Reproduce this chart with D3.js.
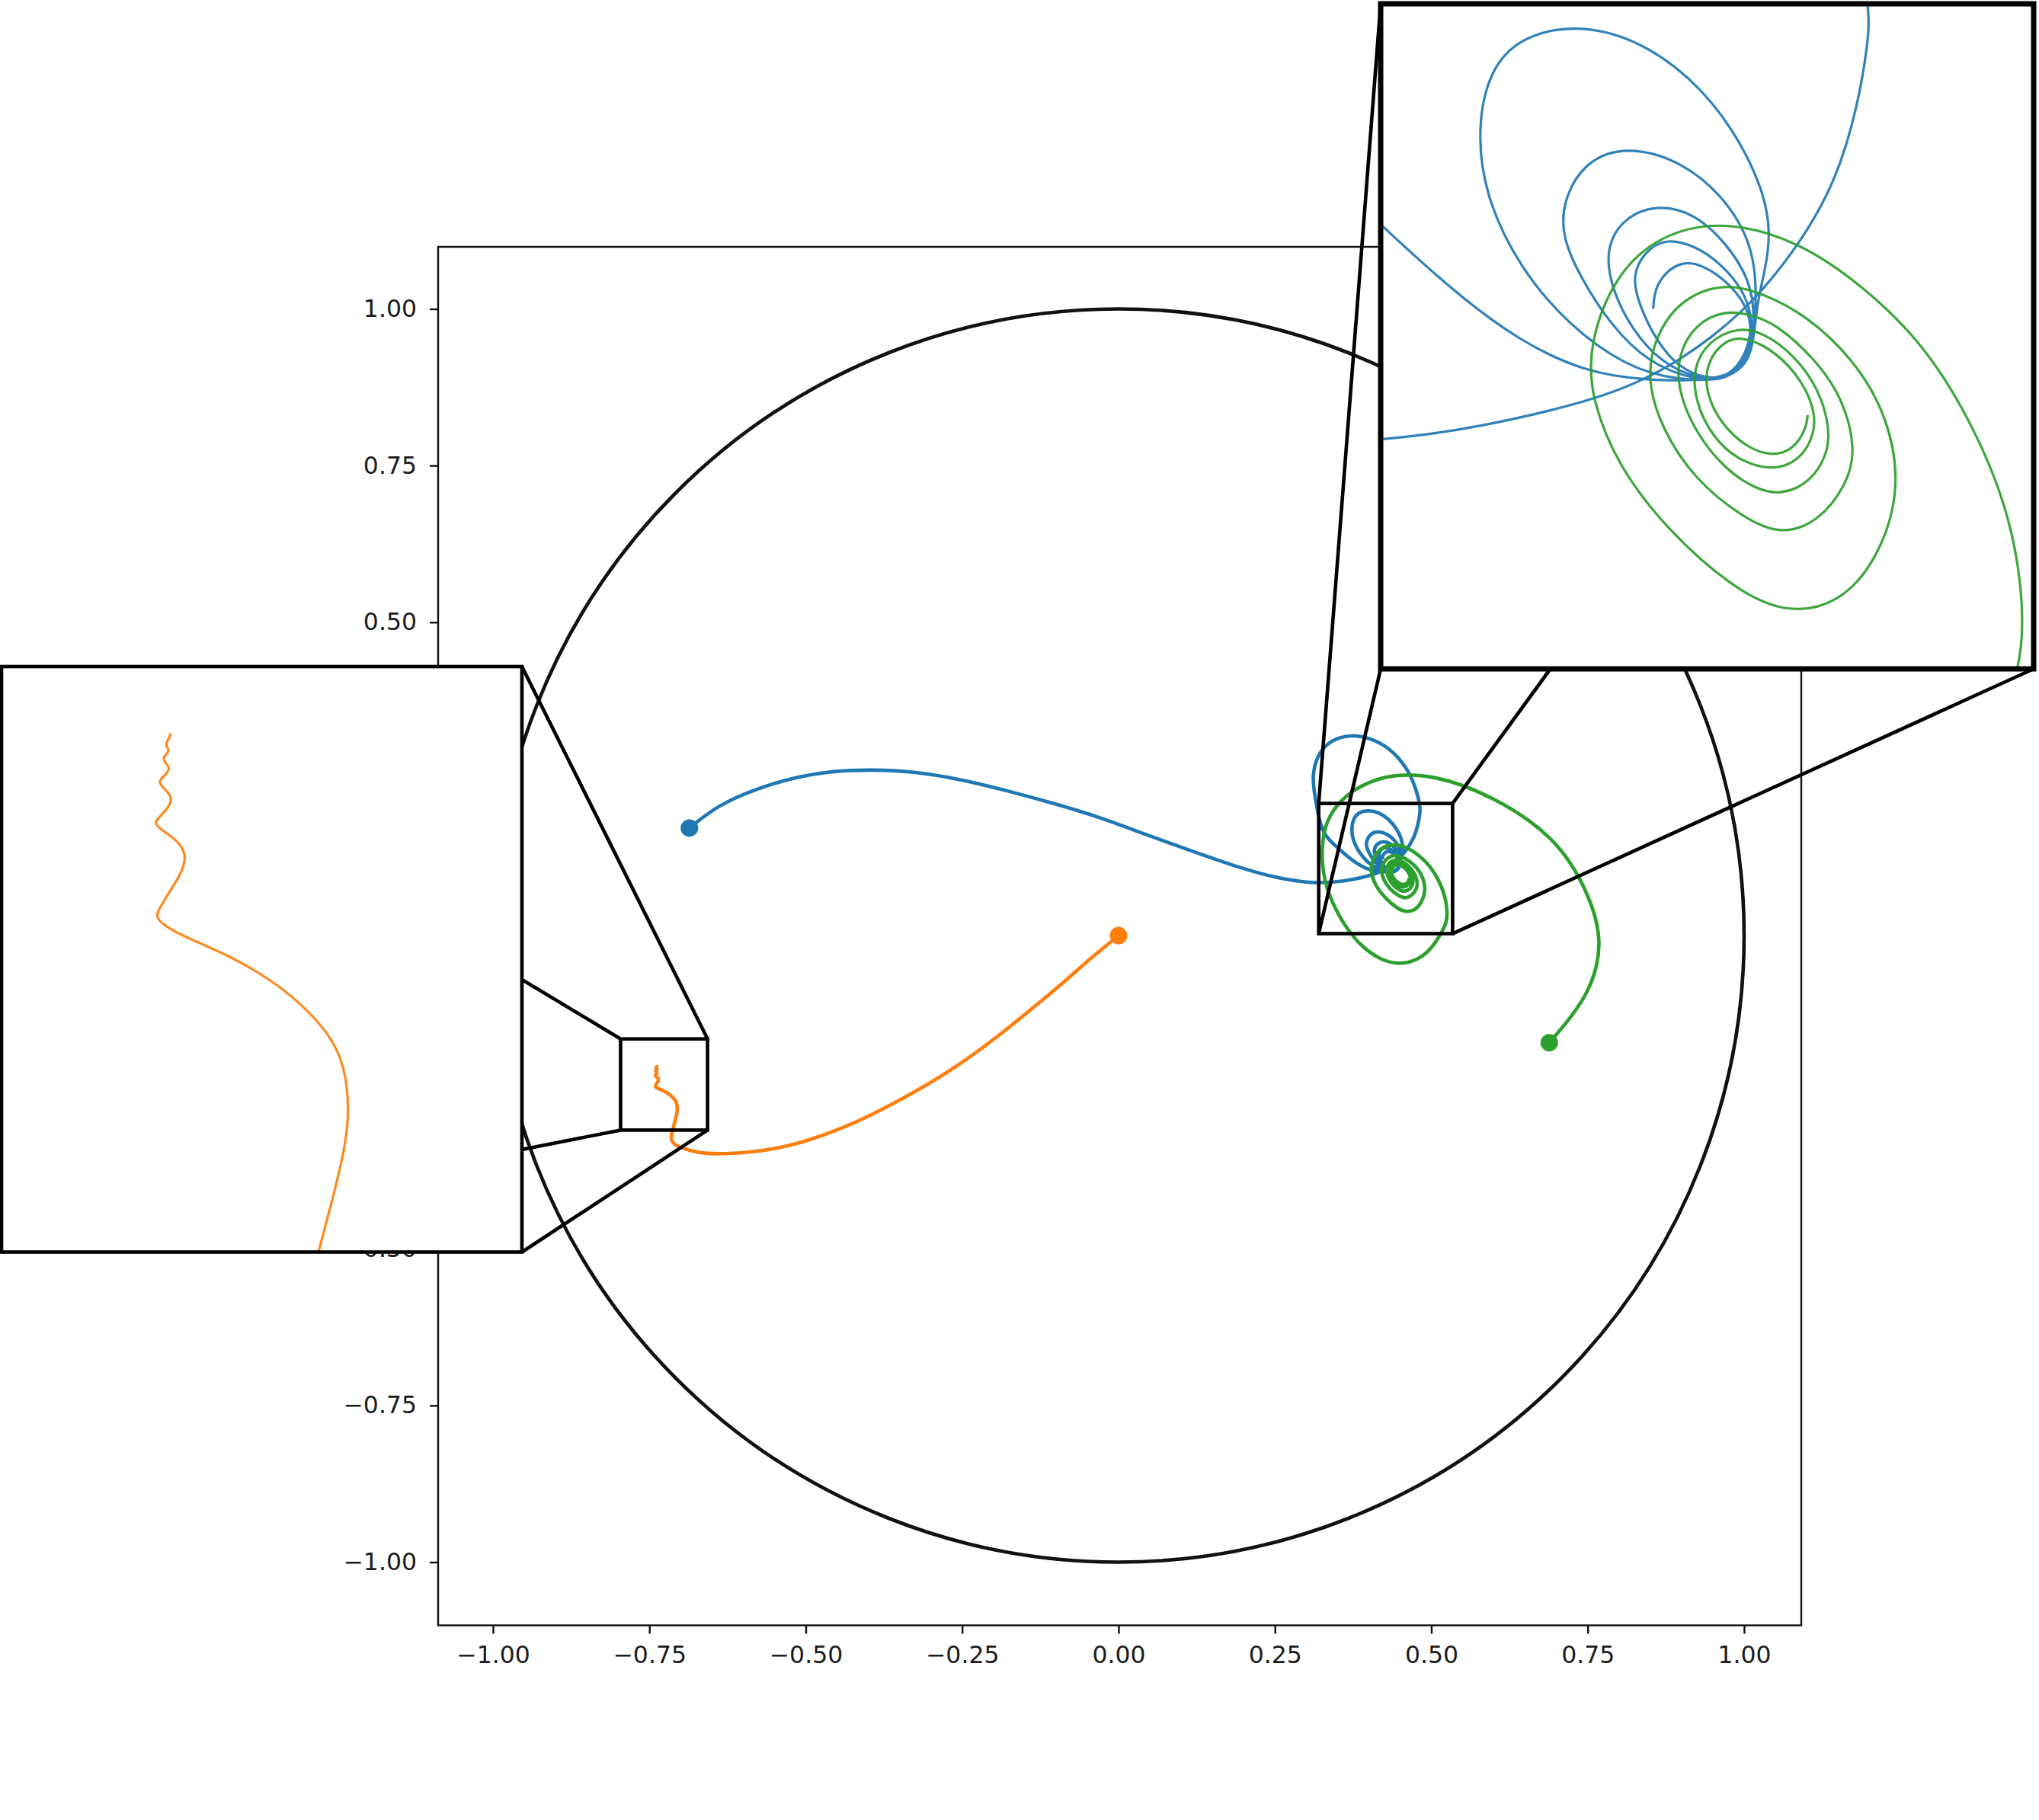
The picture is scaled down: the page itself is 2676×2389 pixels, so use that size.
<!DOCTYPE html>
<html>
<head>
<meta charset="utf-8">
<script src="https://cdn.jsdelivr.net/npm/d3@7"></script>
<style>
  body { margin: 0; background: #fff; }
  text { font-family: "DejaVu Sans", sans-serif; }
</style>
</head>
<body>
<div id="main-frame"></div>
<script>
const tickVals = [-1, -0.75, -0.5, -0.25, 0, 0.25, 0.5, 0.75, 1];

const blueX = [-0.686, -0.6417, -0.582, -0.5149, -0.4552, -0.3955, -0.3284, -0.2537, -0.1792, -0.1046, -0.03, 0.0446, 0.1192, 0.1938, 0.2535, 0.3057,
  0.345, 0.3721, 0.4053, 0.4189, 0.4285, 0.4381, 0.4465, 0.4519, 0.4627, 0.4729, 0.4789, 0.4819, 0.4825,
  0.4754, 0.4613, 0.4328, 0.4004, 0.3719, 0.3395, 0.3171, 0.309, 0.3151, 0.3231, 0.3345,
  0.345, 0.3661, 0.3841, 0.4021, 0.4189, 0.4381, 0.4477, 0.4497, 0.4507, 0.4531, 0.4545, 0.4525, 0.4441, 0.4321, 0.4165, 0.3997, 0.3833, 0.3748, 0.372, 0.375, 0.3841, 0.3973, 0.4141, 0.4285, 0.4417, 0.4483, 0.4497, 0.4507, 0.4489, 0.4417, 0.4297, 0.4141, 0.4021, 0.396, 0.396, 0.4009, 0.4093, 0.4201, 0.4333, 0.4429, 0.4489, 0.4501, 0.4489, 0.4417, 0.4333, 0.4232, 0.4129, 0.408, 0.4099, 0.4153, 0.4237, 0.4345, 0.4429, 0.4483, 0.4497, 0.4477, 0.4405, 0.4333, 0.4249, 0.4189, 0.4155, 0.4177, 0.4225, 0.4285, 0.4369, 0.4429, 0.4477, 0.4495, 0.4465, 0.4405, 0.4345, 0.4297, 0.4249, 0.4219, 0.4215];
const blueY = [0.1715, 0.2072, 0.2335, 0.2535, 0.2628, 0.2648, 0.262, 0.2498, 0.2315, 0.2113, 0.189, 0.1606, 0.1342, 0.1079, 0.0916, 0.0836,
  0.085, 0.0886, 0.0964, 0.102, 0.1072, 0.1138, 0.121, 0.1264, 0.1396, 0.157, 0.1774, 0.1954, 0.206,
  0.2356, 0.268, 0.3005, 0.3159, 0.3208, 0.3127, 0.2883, 0.2518, 0.2153, 0.172, 0.1548,
  0.1448, 0.1258, 0.1126, 0.1042, 0.1018, 0.1016, 0.1054, 0.1126, 0.1234, 0.133, 0.1426, 0.1546, 0.1714, 0.1858, 0.1964, 0.2004, 0.1966, 0.1862, 0.169, 0.151, 0.133, 0.1174, 0.1054, 0.1018, 0.1018, 0.1066, 0.1138, 0.1282, 0.1402, 0.1522, 0.1624, 0.1668, 0.1624, 0.151, 0.1414, 0.1306, 0.1174, 0.1066, 0.1018, 0.1018, 0.109, 0.1186, 0.1294, 0.1402, 0.1478, 0.1506, 0.1468, 0.1378, 0.127, 0.1162, 0.1066, 0.102, 0.1024, 0.109, 0.1162, 0.1258, 0.1342, 0.139, 0.1412, 0.1372, 0.1306, 0.1222, 0.1126, 0.1054, 0.102, 0.103, 0.109, 0.1174, 0.1246, 0.1306, 0.134, 0.1346, 0.1318, 0.127, 0.1216];

const greenX = [0.6886, 0.7211, 0.7495, 0.7657, 0.7698, 0.7617, 0.7373, 0.7049, 0.6602, 0.5993, 0.5465, 0.5059, 0.4734, 0.4369, 0.4004, 0.3638, 0.3353, 0.3252, 0.3252, 0.3353, 0.3597, 0.3882, 0.4206, 0.4491, 0.4775, 0.5018, 0.5185,
  0.5247, 0.5257, 0.5221, 0.5125, 0.4981, 0.4801, 0.4625, 0.4415, 0.4232, 0.4105, 0.4034, 0.404, 0.4117, 0.4261, 0.4435, 0.4585, 0.4735, 0.4845, 0.4912, 0.4873, 0.4777, 0.4645, 0.4525, 0.4417, 0.4297, 0.4225, 0.4195, 0.4237, 0.4333, 0.4465, 0.457, 0.4678, 0.4759, 0.4785, 0.4747, 0.4669, 0.4561, 0.4489, 0.4417, 0.4333, 0.4285, 0.4283, 0.4333, 0.4417, 0.4501, 0.4573, 0.4657, 0.4705, 0.4711, 0.4681, 0.4609, 0.4525, 0.4453, 0.4369, 0.4327, 0.4333, 0.4381, 0.4453, 0.4555, 0.4633, 0.4669, 0.4669, 0.4633, 0.4561, 0.4477, 0.4417, 0.4363, 0.4363, 0.4405, 0.4477, 0.4549, 0.4609, 0.4645, 0.4649];
const greenY = [-0.1711, -0.1334, -0.0928, -0.0482, -0.0077, 0.0369, 0.0937, 0.1423, 0.1828, 0.2193, 0.2417, 0.2527, 0.2567, 0.2558, 0.2457, 0.2254, 0.191, 0.1545, 0.1058, 0.0653, 0.0167, -0.0179, -0.0401, -0.0462, -0.0401, -0.0198, 0.0085,
  0.022, 0.0394, 0.0634, 0.0874, 0.1114, 0.1282, 0.1402, 0.1462, 0.1422, 0.1306, 0.1114, 0.097, 0.0778, 0.0598, 0.0446, 0.0372, 0.0398, 0.052, 0.0718, 0.0922, 0.1078, 0.1198, 0.1258, 0.1288, 0.1246, 0.115, 0.103, 0.0886, 0.0742, 0.064, 0.059, 0.0625, 0.073, 0.0826, 0.097, 0.1078, 0.1174, 0.12, 0.1212, 0.1174, 0.109, 0.0994, 0.0874, 0.0772, 0.0718, 0.07, 0.0736, 0.0814, 0.0886, 0.0994, 0.109, 0.115, 0.1166, 0.1126, 0.1054, 0.0958, 0.0862, 0.0796, 0.0766, 0.0802, 0.0874, 0.0934, 0.1018, 0.1096, 0.1138, 0.1132, 0.1066, 0.0982, 0.0898, 0.0832, 0.0808, 0.0826, 0.0886, 0.0922];

const orangeX = [0, -0.0446, -0.0943, -0.144, -0.1937, -0.2434, -0.2932, -0.3429, -0.3926, -0.4423, -0.492, -0.5416, -0.5915, -0.6412, -0.6759, -0.7007, -0.71, -0.716, -0.714,
  -0.7108, -0.7081, -0.706, -0.7051, -0.706, -0.709, -0.714, -0.7198, -0.7274, -0.7341, -0.7387, -0.7408, -0.74, -0.7383, -0.7362, -0.735, -0.736, -0.7387, -0.7413, -0.7396, -0.7378, -0.7378, -0.7407, -0.7387, -0.7379, -0.7399, -0.7378, -0.7392, -0.7379, -0.7381];
const orangeY = [0, -0.0361, -0.0807, -0.1213, -0.1618, -0.1983, -0.2308, -0.2591, -0.2855, -0.3078, -0.326, -0.3394, -0.3463, -0.3491, -0.3463, -0.3382, -0.3335, -0.326, -0.3148,
  -0.3028, -0.2925, -0.2838, -0.2766, -0.268, -0.2622, -0.2568, -0.2522, -0.2478, -0.245, -0.2427, -0.2408, -0.2392, -0.2363, -0.2331, -0.2298, -0.2273, -0.2252, -0.2235, -0.2219, -0.2198, -0.218, -0.2158, -0.2144, -0.2129, -0.2115, -0.21, -0.2088, -0.2074, -0.2068];

const colors = { blue: "#1f77b4", orange: "#ff7f0e", green: "#2ca02c" };
const series = [
  { xs: blueX, ys: blueY, color: colors.blue, insetFrom: 0 },
  { xs: orangeX, ys: orangeY, color: colors.orange, insetFrom: 0 },
  // the first pass of the green curve is not shown in its zoomed view
  { xs: greenX, ys: greenY, color: colors.green, insetFrom: greenX.indexOf(0.5185) }
];

const svg = d3.select("#main-frame")
  .append("svg")
  .attr("width", 2676)
  .attr("height", 2389);

const plot = { left: 575, right: 2364, top: 324, bottom: 2133.5 };

const xScale = d3.scaleLinear().domain([-1.0877, 1.0914]).range([plot.left, plot.right]);
const yScale = d3.scaleLinear().domain([-1.1009, 1.0991]).range([plot.bottom, plot.top]);

// axes
svg.append("g")
  .attr("transform", `translate(0, ${plot.bottom})`)
  .call(d3.axisBottom(xScale).tickValues(tickVals).tickFormat(d3.format(".2f")).tickSize(11).tickPadding(16));
svg.append("g")
  .attr("transform", `translate(${plot.left}, 0)`)
  .call(d3.axisLeft(yScale).tickValues(tickVals).tickFormat(d3.format(".2f")).tickSize(11).tickPadding(17));
svg.selectAll(".domain").remove();
svg.selectAll(".tick line").attr("stroke", "#111").attr("stroke-width", 2.4);
svg.selectAll(".tick text").attr("font-size", 31.5).attr("font-family", '"DejaVu Sans"').attr("fill", "#1c1c1c");
svg.append("rect")
  .attr("x", plot.left).attr("y", plot.top)
  .attr("width", plot.right - plot.left).attr("height", plot.bottom - plot.top)
  .attr("fill", "none").attr("stroke", "#111").attr("stroke-width", 2.4);

// unit circle
svg.append("ellipse")
  .attr("cx", xScale(0)).attr("cy", yScale(0))
  .attr("rx", xScale(1) - xScale(0)).attr("ry", yScale(0) - yScale(1))
  .attr("fill", "none").attr("stroke", "#111").attr("stroke-width", 4.6);

function drawPaths(g, sx, sy, lw, inset) {
  const line = d3.line()
    .x(i => sx(i.x)).y(i => sy(i.y))
    .curve(d3.curveBasis);
  series.forEach(s => {
    const pts = s.xs.map((x, i) => ({ x: x, y: s.ys[i] })).slice(inset ? s.insetFrom : 0);
    g.append("path")
      .attr("d", line(pts))
      .attr("fill", "none")
      .attr("stroke", s.color)
      .attr("stroke-opacity", inset ? 0.92 : 1)
      .attr("stroke-width", lw)
      .attr("stroke-linejoin", "round");
  });
}

drawPaths(svg, xScale, yScale, 4.6, false);

svg.selectAll("circle.start")
  .data(series)
  .enter()
  .append("circle")
  .attr("class", "start")
  .attr("cx", d => xScale(d.xs[0]))
  .attr("cy", d => yScale(d.ys[0]))
  .attr("r", 11.5)
  .attr("fill", d => d.color);

// zoomed views: box on the main axes, connector lines and the inset on top
const insets = [
  {
    id: "inset-green",
    box: { x0: 0.32, x1: 0.534, y0: 0.003, y1: 0.2108 },
    view: { x0: 0.34498, x1: 0.52834, y0: 0.022, y1: 0.20596 },
    frame: { left: 1812, right: 2669, top: 5, bottom: 878 },
    border: 7
  },
  {
    id: "inset-orange",
    box: { x0: -0.796, x1: -0.657, y0: -0.3105, y1: -0.165 },
    view: { x0: -0.76898, x1: -0.67347, y0: -0.30278, y1: -0.19442 },
    frame: { left: 2, right: 685, top: 875, bottom: 1643.5 },
    border: 4.6
  }
];

insets.forEach(ins => {
  const b = ins.box, f = ins.frame, v = ins.view;
  const corners = [
    [b.x0, b.y1, f.left, f.top],
    [b.x0, b.y0, f.left, f.bottom],
    [b.x1, b.y1, f.right, f.top],
    [b.x1, b.y0, f.right, f.bottom]
  ];
  svg.selectAll(null)
    .data(corners)
    .enter()
    .append("line")
    .attr("x1", d => xScale(d[0])).attr("y1", d => yScale(d[1]))
    .attr("x2", d => d[2]).attr("y2", d => d[3])
    .attr("stroke", "#000").attr("stroke-width", 4.6);
  svg.append("rect")
    .attr("x", xScale(b.x0)).attr("y", yScale(b.y1))
    .attr("width", xScale(b.x1) - xScale(b.x0)).attr("height", yScale(b.y0) - yScale(b.y1))
    .attr("fill", "none").attr("stroke", "#000").attr("stroke-width", 4.6);

  svg.append("clipPath").attr("id", ins.id)
    .append("rect")
    .attr("x", f.left).attr("y", f.top)
    .attr("width", f.right - f.left).attr("height", f.bottom - f.top);
  svg.append("rect")
    .attr("x", f.left).attr("y", f.top)
    .attr("width", f.right - f.left).attr("height", f.bottom - f.top)
    .attr("fill", "#fff");

  const sx = d3.scaleLinear().domain([v.x0, v.x1]).range([f.left, f.right]);
  const sy = d3.scaleLinear().domain([v.y0, v.y1]).range([f.bottom, f.top]);
  const g = svg.append("g").attr("clip-path", `url(#${ins.id})`);
  drawPaths(g, sx, sy, 3.2, true);

  svg.append("rect")
    .attr("x", f.left).attr("y", f.top)
    .attr("width", f.right - f.left).attr("height", f.bottom - f.top)
    .attr("fill", "none").attr("stroke", "#000").attr("stroke-width", ins.border);
});
</script>
</body>
</html>
